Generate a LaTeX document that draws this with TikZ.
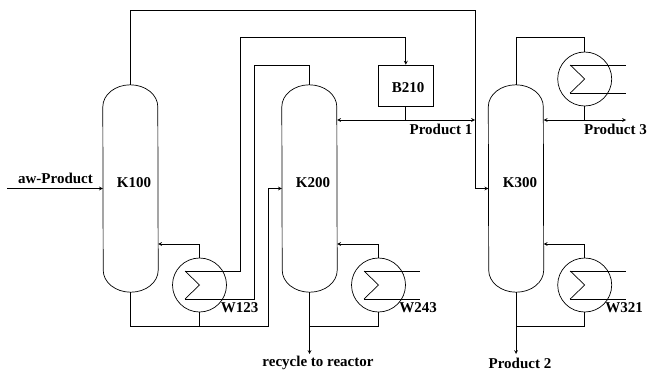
\documentclass[tikz,border=0pt]{standalone}
\usepackage{fontspec}
\setmainfont{Liberation Serif}
\usepackage{tikz}
\usetikzlibrary{shapes.geometric, arrows, positioning}
\tikzset{
    line/.style={line width=0.7pt, draw=black},
    arrow/.style={line, ->, >=stealth},
    tag/.style={inner sep=0pt, font=\fontsize{15}{17}\selectfont\bfseries},
    column/.style={inner sep=0pt, minimum width=55pt, minimum height=207pt,
        append after command={\pgfextra{
            \draw [line] ([yshift=-22pt]\tikzlastnode.north west)
                arc [start angle=180, end angle=0, x radius=27.5pt, y radius=22pt]
                -- ([yshift=22pt]\tikzlastnode.south east)
                arc [start angle=0, end angle=-180, x radius=27.5pt, y radius=22pt]
                -- cycle;
        }}},
    exchanger/.style={draw, circle, line, inner sep=0pt, minimum size=54pt,
        append after command={\pgfextra{
            \coordinate (\tikzlastnode-in) at ([shift={(-14.5pt,14pt)}]\tikzlastnode.center);
            \coordinate (\tikzlastnode-out) at ([shift={(-14.5pt,-14pt)}]\tikzlastnode.center);
            \draw [line] (\tikzlastnode-in) -- (\tikzlastnode.center) -- (\tikzlastnode-out);
        }}},
    vessel/.style={draw, rectangle, line, inner sep=0pt, minimum width=55pt, minimum height=41pt}
}
\begin{document}
\begin{tikzpicture}[x=1pt, y=-1pt]
    \useasboundingbox (0,0) rectangle (647,370);

    % Columns
    \node (K100) [column] at (130.5,188.5) {};
    \node (K200) [column] at (309.5,188.5) {};
    \node (K300) [column] at (516,188.5) {};
    \node (K100tag) [tag] at (134,183) {K100};
    \node (K200tag) [tag] at (313,183) {K200};
    \node (K300tag) [tag] at (520,183) {K300};

    % Exchangers and vessel
    \node (W123) [exchanger] at (199.5,285) {};
    \node (W243) [exchanger] at (378.5,285) {};
    \node (W321) [exchanger] at (584.7,285) {};
    \node (Wtop) [exchanger] at (584.7,79) {};
    \node (B210) [vessel] at (405.8,85.5) {};
    \node (B210tag) [tag] at (408,88) {B210};

    % Labels
    \node (feedtag) [tag] at (55.5,178) {aw-Product};
    \node (W123tag) [tag] at (239.5,308) {W123};
    \node (W243tag) [tag] at (418,308) {W243};
    \node (W321tag) [tag] at (624,308) {W321};
    \node (prod1tag) [tag] at (441,129) {Product 1};
    \node (prod3tag) [tag] at (615.5,129) {Product 3};
    \node (prod2tag) [tag] at (520,363) {Product 2};
    \node (recycletag) [tag] at (318,363) {recycle to reactor};

    % Free ends and corners
    \coordinate (feed) at (7,188.5);
    \coordinate (overhead) at (475,10);
    \coordinate (bottoms) at (268.5,326);
    \coordinate (reflux) at (0,244);
    \coordinate (drawoff) at (0,120);
    \coordinate (hotup) at (240.7,37);
    \coordinate (coldup) at (254.7,65);
    \coordinate (topreflux) at (516,37);
    \coordinate (W243hot) at (419.7,271);
    \coordinate (W243cold) at (419.7,299);
    \coordinate (W321hot) at (626,271);
    \coordinate (W321cold) at (626,299);
    \coordinate (Wtophot) at (626,65);
    \coordinate (Wtopcold) at (626,93);
    \coordinate (recycle) at (309.5,354);
    \coordinate (prod2) at (516,354);
    \coordinate (prod3) at (626,120);

    % K100 streams
    \draw [arrow] (feed) -- (K100.west);
    \draw [arrow] (K100.north) |- (overhead) |- (K300.west);
    \draw [arrow] (K100.south) |- (bottoms) |- (K200.west);
    \draw [arrow] (W123.north) |- (K100.east |- reflux);
    \draw [line] (W123.south) -- (W123.south |- bottoms);
    \draw [arrow] (W123-in) -| (hotup) -| (B210.north);
    \draw [line] (W123-out) -| (coldup) -| (K200.north);

    % K200 streams
    \draw [arrow] (K200.south) -- (recycle);
    \draw [arrow] (W243.north) |- (K200.east |- reflux);
    \draw [line] (W243.south) |- (K200.south |- bottoms);
    \draw [line] (W243-in) -- (W243hot);
    \draw [line] (W243-out) -- (W243cold);
    \draw [line] (B210.south) -- (B210.south |- drawoff);
    \draw [arrow, <->] (K200.east |- drawoff) -- (overhead |- drawoff);

    % K300 streams
    \draw [arrow] (K300.south) -- (prod2);
    \draw [arrow] (W321.north) |- (K300.east |- reflux);
    \draw [line] (W321.south) |- (K300.south |- bottoms);
    \draw [line] (W321-in) -- (W321hot);
    \draw [line] (W321-out) -- (W321cold);
    \draw [line] (K300.north) |- (topreflux) -| (Wtop.north);
    \draw [line] (Wtop-in) -- (Wtophot);
    \draw [line] (Wtop-out) -- (Wtopcold);
    \draw [line] (Wtop.south) -- (Wtop.south |- drawoff);
    \draw [arrow, <->] (K300.east |- drawoff) -- (prod3);
\end{tikzpicture}
\end{document}
